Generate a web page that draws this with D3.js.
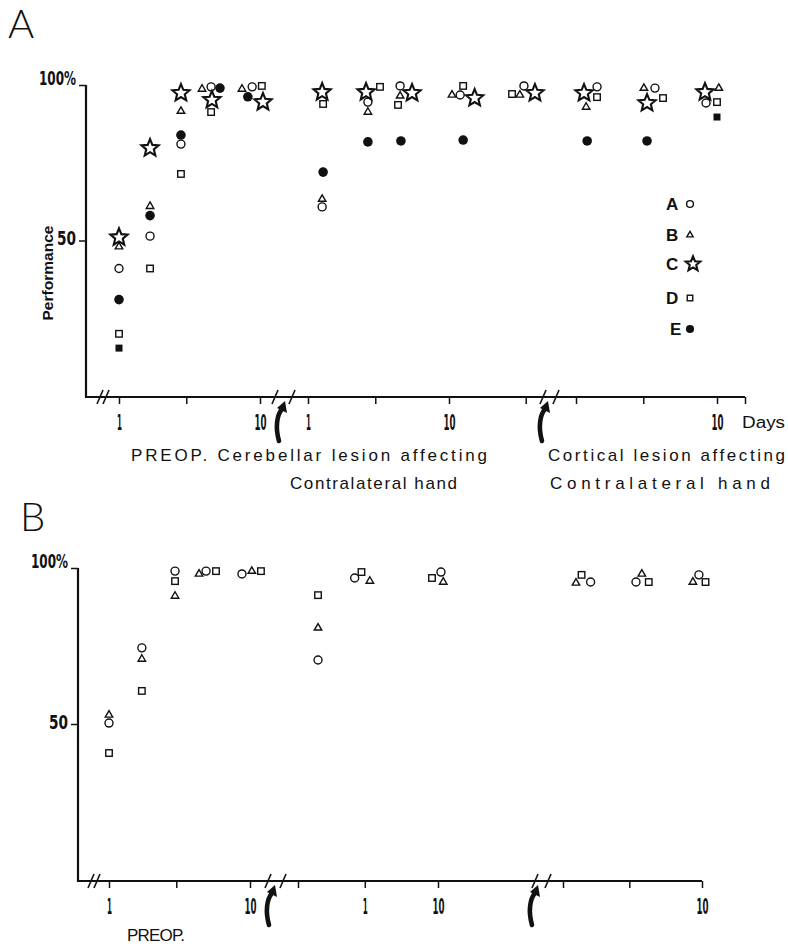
<!DOCTYPE html>
<html>
<head>
<meta charset="utf-8">
<script src="https://cdn.jsdelivr.net/npm/d3@7"></script>
<style>
  body { margin: 0; background: #fff; }
  svg { display: block; }
</style>
</head>
<body>
<svg id="chart" width="788" height="949"></svg>
<script>
// each point: [segment, day, performance %]
// segment 0 = preop, 1 = after cerebellar lesion, 2 = after cortical lesion
const panelA_subjA = [[0,1,41],[0,1.66,51.4],[0,2.75,81],[0,4.5,99.4],[0,8.8,99.4],
                      [1,1.26,60.8],[1,2.66,94.5],[1,4.5,99.7],[1,12,96.8],[1,34,99.7],
                      [2,1.41,99.4],[2,3.63,99],[2,8.36,94.2]];
const panelA_subjB = [[0,1,48],[0,1.66,61],[0,2.75,91.6],[0,3.88,98.7],[0,7.45,98.7],
                      [1,1.26,63.3],[1,2.66,91.3],[1,4.5,96.5],[1,10.5,96.8],[1,31.8,96.8],
                      [2,1.18,92.9],[2,3.03,99],[2,10.3,99]];
const panelA_subjC = [[0,1,51],[0,1.66,79.7],[0,2.75,97.4],[0,4.56,95.2],[0,10.5,94.5],
                      [1,1.26,97.7],[1,2.58,97.7],[1,5.47,97.4],[1,15.2,95.8],[1,40.7,97.4],
                      [2,1.14,97.4],[2,3.19,94.2],[2,8.22,97.7]];
const panelA_subjD = [[0,1,20],[0,1.66,41],[0,2.75,71.4],[0,4.5,91.3],[0,10.3,99.7],
                      [1,1.28,93.9],[1,3.24,99.4],[1,4.35,93.6],[1,12.6,99.7],[1,28,97.1],
                      [2,1.41,96.1],[2,4.14,95.8],[2,10,94.5]];
const panelA_subjE = [[0,1,31],[0,1.66,58],[0,2.75,83.9],[0,5.2,99],[0,8.2,96.2],
                      [1,1.28,72],[1,2.66,81.7],[1,4.56,82],[1,12.6,82.3],
                      [2,1.2,82],[2,3.19,82]];
const panelA_filledSq = [[0,1,15.4],[2,10,89.7]];

const panelB_subjA = [[0,1,50.3],[0,1.71,74.4],[0,2.94,99],[0,4.88,99],[0,8.77,98.1],
                      [1,1.39,70.5],[1,2.54,96.8],[1,10.5,98.7],
                      [2,1.58,95.5],[2,3.35,95.5],[2,9.5,97.8]];
const panelB_subjB = [[0,1,52.9],[0,1.71,70.8],[0,2.94,91],[0,4.35,98.1],[0,10.3,99],
                      [1,1.39,80.8],[1,3.26,95.8],[1,10.9,95.5],
                      [2,1.24,95.2],[2,3.69,98.1],[2,8.6,95.5]];
const panelB_subjD = [[0,1,40.7],[0,1.71,60.6],[0,2.94,95.8],[0,5.74,99],[0,11.96,99],
                      [1,1.39,91.3],[1,2.84,98.7],[1,9.06,96.8],
                      [2,1.36,97.8],[2,4.14,95.5],[2,10.6,95.5]];

const subjects = ['A', 'B', 'C', 'D', 'E'];
const yTicks = [50, 100];
const yTickLabels = ['50', '100%'];

const panelA_xTicks = [[1,3,10], [1,3,10,35], [1,3,10,15.8]];
const panelA_xLabels = [['1','','10'], ['1','','10',''], ['','','10','']];
const panelB_xTicks = [[1,3,10], [1,3,10], [1,3,10]];
const panelB_xLabels = [['1','','10'], ['','1','10'], ['','','10']];

const captionsA = ['PREOP. Cerebellar lesion  affecting', 'Contralateral hand',
                   'Cortical lesion  affecting', 'Contralateral  hand'];
const captionsB = ['PREOP.'];

const ink = '#111';
const numFont = "'Liberation Sans Narrow', 'DejaVu Sans Condensed', sans-serif";
const txtFont = "'Liberation Sans', Arial, sans-serif";

const shapeOf = {A: 'circle', B: 'triangle', C: 'star', D: 'square', E: 'dot', Esq: 'fsquare'};

function starPath(R, r) {
    let p = [];
    for (let i = 0; i < 10; i++) {
        const a = -Math.PI / 2 + i * Math.PI / 5;
        const rad = i % 2 ? r : R;
        p.push(rad * Math.cos(a) + ',' + rad * Math.sin(a));
    }
    return 'M' + p.join('L') + 'Z';
}

function triPath(s) {
    const h = s * Math.sqrt(3) / 2;
    return `M0,${-2 * h / 3}L${s / 2},${h / 3}L${-s / 2},${h / 3}Z`;
}

function mark(g, shape, x, y, k) {
    k = k || 1;
    const t = `translate(${x},${y})`;
    if (shape === 'circle') {
        g.append('circle').attr('cx', x).attr('cy', y).attr('r', 4 * k)
            .attr('fill', 'none').attr('stroke', ink).attr('stroke-width', 1.4);
    } else if (shape === 'triangle') {
        g.append('path').attr('d', triPath(7.5 * k)).attr('transform', t)
            .attr('fill', 'none').attr('stroke', ink).attr('stroke-width', 1.4);
    } else if (shape === 'square') {
        const s = 6.5 * k;
        g.append('rect').attr('x', x - s / 2).attr('y', y - s / 2).attr('width', s).attr('height', s)
            .attr('fill', 'none').attr('stroke', ink).attr('stroke-width', 1.4);
    } else if (shape === 'star') {
        g.append('path').attr('d', starPath(9 * k, 4 * k)).attr('transform', t)
            .attr('fill', 'none').attr('stroke', ink).attr('stroke-width', 2.1)
            .attr('stroke-linejoin', 'miter');
    } else if (shape === 'dot') {
        g.append('circle').attr('cx', x).attr('cy', y).attr('r', 4.8 * k).attr('fill', ink);
    } else if (shape === 'fsquare') {
        const s = 7 * k;
        g.append('rect').attr('x', x - s / 2).attr('y', y - s / 2).attr('width', s).attr('height', s)
            .attr('fill', ink);
    }
}

// squeeze condensed tick numerals to their printed width
const labelWidth = {'1': 5, '10': 12, '50': 19, '100%': 37};

const svg = d3.select('#chart');

const panels = [
    {
        letter: 'A', letterX: 8, letterY: 38,
        yRange: [396, 85], yAxisX: 86, axisY: 397, xEnd: 745,
        segRanges: [[119, 260], [308, 449], [576, 717]],
        xTicks: panelA_xTicks, xLabels: panelA_xLabels,
        slashes: [100, 106, 275, 292, 543, 556], arrows: [280, 543],
        series: [
            {key: 'A', pts: panelA_subjA}, {key: 'B', pts: panelA_subjB},
            {key: 'C', pts: panelA_subjC}, {key: 'D', pts: panelA_subjD},
            {key: 'E', pts: panelA_subjE}, {key: 'Esq', pts: panelA_filledSq}
        ]
    },
    {
        letter: 'B', letterX: 20, letterY: 531,
        yRange: [880, 568], yAxisX: 78, axisY: 881, xEnd: 702,
        segRanges: [[109, 250], [298, 438], [563, 702]],
        xTicks: panelB_xTicks, xLabels: panelB_xLabels,
        slashes: [91, 97, 268, 283, 535, 548], arrows: [270, 533],
        series: [
            {key: 'A', pts: panelB_subjA}, {key: 'B', pts: panelB_subjB},
            {key: 'D', pts: panelB_subjD}
        ]
    }
];

panels.forEach(function(p) {
    const g = svg.append('g');
    const y = d3.scaleLinear().domain([0, 100]).range(p.yRange);
    const xs = p.segRanges.map(r => d3.scaleLog().domain([1, 10]).range(r));

    g.append('text').attr('x', p.letterX).attr('y', p.letterY)
        .attr('font-family', "Lato, 'Noto Sans', sans-serif").attr('font-weight', 300)
        .attr('font-size', 40).attr('fill', ink).text(p.letter);

    // y axis
    const yAx = d3.axisLeft(y).tickValues(yTicks).tickFormat((d, i) => yTickLabels[i])
        .tickSize(7).tickPadding(3);
    const yg = g.append('g').attr('transform', `translate(${p.yAxisX},0)`).call(yAx);
    yg.select('.domain').remove();
    yg.selectAll('line').attr('stroke', ink).attr('stroke-width', 1.5);
    yg.selectAll('text')
        .attr('font-family', numFont).attr('font-weight', 'bold').attr('font-size', 20)
        .attr('fill', ink)
        .attr('dy', d => d === 100 ? '-0.05em' : '0.2em')
        .attr('textLength', (d, i) => labelWidth[yTickLabels[i]])
        .attr('lengthAdjust', 'spacingAndGlyphs');
    g.append('line').attr('x1', p.yAxisX).attr('x2', p.yAxisX)
        .attr('y1', y(100)).attr('y2', p.axisY + 1)
        .attr('stroke', ink).attr('stroke-width', 2.2);

    // x axis, three log segments
    g.append('line').attr('x1', p.yAxisX - 1).attr('x2', p.xEnd)
        .attr('y1', p.axisY).attr('y2', p.axisY)
        .attr('stroke', ink).attr('stroke-width', 2.2);
    xs.forEach(function(sc, si) {
        const labels = p.xLabels[si];
        const ax = d3.axisBottom(sc).tickValues(p.xTicks[si]).tickFormat((d, i) => labels[i])
            .tickSize(7).tickPadding(10);
        const ag = g.append('g').attr('transform', `translate(0,${p.axisY})`).call(ax);
        ag.select('.domain').remove();
        ag.selectAll('line').attr('stroke', ink).attr('stroke-width', 1.5);
        ag.selectAll('text')
            .attr('font-family', numFont).attr('font-weight', 'bold').attr('font-size', 22)
            .attr('fill', ink)
            .each(function(d, i) {
                if (labels[i]) {
                    d3.select(this).attr('textLength', labelWidth[labels[i]])
                        .attr('lengthAdjust', 'spacingAndGlyphs');
                }
            });
    });

    p.slashes.forEach(function(sx) {
        g.append('line').attr('x1', sx - 3).attr('y1', p.axisY + 7)
            .attr('x2', sx + 3).attr('y2', p.axisY - 7)
            .attr('stroke', ink).attr('stroke-width', 1.6);
    });

    p.arrows.forEach(function(ax0) {
        const top = p.axisY + 4;
        g.append('path')
            .attr('d', `M${ax0 - 1},${top + 40} C${ax0 - 5},${top + 26} ${ax0 - 3},${top + 14} ${ax0 + 2},${top + 8}`)
            .attr('fill', 'none').attr('stroke', ink).attr('stroke-width', 4.6)
            .attr('stroke-linecap', 'round');
        g.append('path')
            .attr('d', `M${ax0 + 5},${top} L${ax0 + 7},${top + 12} L${ax0 - 3},${top + 7} Z`)
            .attr('fill', ink);
    });

    // data
    p.series.forEach(function(s) {
        s.pts.forEach(function(pt) {
            mark(g, shapeOf[s.key], xs[pt[0]](pt[1]), y(pt[2]));
        });
    });

    p.g = g;
});

// panel A extras
const gA = panels[0].g;
gA.append('text').attr('transform', 'translate(53,273) rotate(-90)')
    .attr('text-anchor', 'middle').attr('font-family', txtFont).attr('font-weight', 'bold')
    .attr('font-size', 14).attr('fill', ink)
    .attr('textLength', 95).attr('lengthAdjust', 'spacingAndGlyphs')
    .text('Performance');

gA.append('text').attr('x', 742).attr('y', 428)
    .attr('font-family', txtFont).attr('font-size', 16).attr('fill', ink)
    .attr('textLength', 43).attr('lengthAdjust', 'spacingAndGlyphs').text('Days');

const capPos = [[131, 461, 356], [290, 489, 167], [548, 461, 237], [550, 489, 220]];
captionsA.forEach(function(c, i) {
    gA.append('text').attr('x', capPos[i][0]).attr('y', capPos[i][1])
        .attr('font-family', txtFont).attr('font-size', 17).attr('fill', ink)
        .attr('textLength', capPos[i][2]).attr('lengthAdjust', 'spacing')
        .text(c);
});

// legend
const legY = [204, 235, 264, 298, 329];
subjects.forEach(function(s, i) {
    gA.append('text').attr('x', s === 'E' ? 670 : 666).attr('y', legY[i] + 6)
        .attr('font-family', txtFont).attr('font-weight', 'bold').attr('font-size', 17)
        .attr('fill', ink).text(s);
    mark(gA, shapeOf[s], s === 'C' ? 693 : 690, legY[i], s === 'C' ? 0.85 : 0.85);
});

const gB = panels[1].g;
gB.append('text').attr('x', 127).attr('y', 941)
    .attr('font-family', txtFont).attr('font-size', 17).attr('fill', ink)
    .attr('textLength', 58).attr('lengthAdjust', 'spacing')
    .text(captionsB[0]);
</script>
</body>
</html>
